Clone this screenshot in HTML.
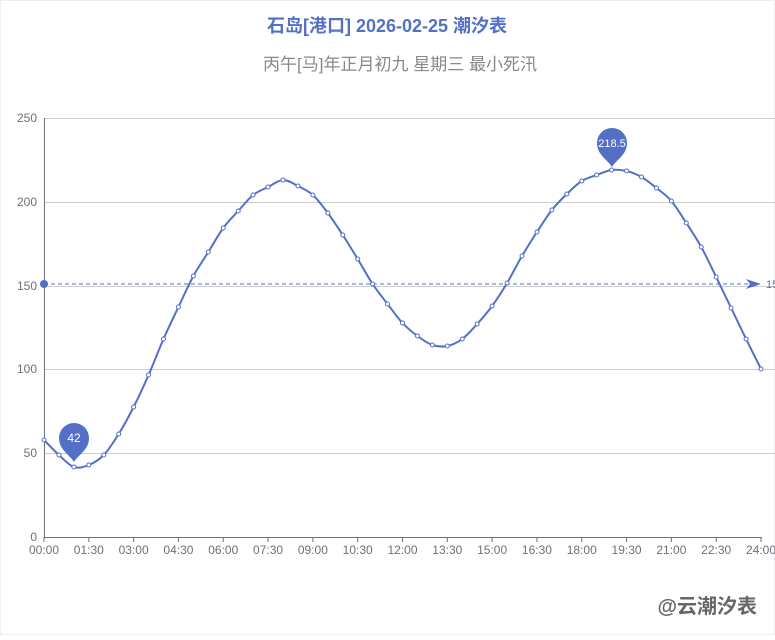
<!DOCTYPE html>
<html><head><meta charset="utf-8"><style>
html,body{margin:0;padding:0;background:#fff;}
body{width:775px;height:635px;overflow:hidden;position:relative;font-family:"Liberation Sans","Noto Sans CJK SC",sans-serif;}
</style></head><body>
<svg id="s" width="775" height="635" xmlns="http://www.w3.org/2000/svg" font-family="Liberation Sans, Noto Sans CJK SC, sans-serif">
<rect x="0.5" y="0.5" width="774" height="634" fill="none" stroke="#eee"/>
<text x="387" y="32" text-anchor="middle" font-size="18" font-weight="bold" fill="#5470c6">石岛[港口] 2026-02-25 潮汐表</text>
<text x="400" y="70" text-anchor="middle" font-size="17" fill="#888">丙午[马]年正月初九 星期三 最小死汛</text>
<g stroke="#ccc" stroke-width="1">
<line x1="44" y1="118.5" x2="775" y2="118.5"/>
<line x1="44" y1="202.5" x2="775" y2="202.5"/>
<line x1="44" y1="286.5" x2="775" y2="286.5"/>
<line x1="44" y1="369.5" x2="775" y2="369.5"/>
<line x1="44" y1="453.5" x2="775" y2="453.5"/>
</g>
<line x1="44" y1="537.5" x2="762" y2="537.5" stroke="#6e7079"/>
<line x1="44.5" y1="118" x2="44.5" y2="537" stroke="#6e7079"/>
<g font-size="12" fill="#6e7079" text-anchor="end">
<text x="37" y="122">250</text><text x="37" y="206">200</text><text x="37" y="290">150</text><text x="37" y="373">100</text><text x="37" y="457">50</text><text x="37" y="541">0</text>
</g>
<g id="xl" font-size="12" fill="#6e7079" text-anchor="middle"></g>
<line x1="44" y1="284" x2="750" y2="284" stroke="#5470c6" stroke-dasharray="4,3" stroke-width="1"/>
<circle cx="44" cy="284" r="4" fill="#5470c6"/>
<path d="M746 279 L761 284 L746 289 L750 284Z" fill="#5470c6"/>
<text x="766" y="288" font-size="11" fill="#5470c6">15</text>
<path id="ln" fill="none" stroke="#5470c6" stroke-width="2"/>
<g id="pts"></g>
<path d="M74 462 C70 455 59 450 59 438 A15 15 0 1 1 89 438 C89 450 78 455 74 462Z" fill="#5470c6"/>
<text x="74" y="442" text-anchor="middle" font-size="12" fill="#fff">42</text>
<path d="M612 167 C608 160 597 155 597 143 A15 15 0 1 1 627 143 C627 155 616 160 612 167Z" fill="#5470c6"/>
<text x="612" y="147" text-anchor="middle" font-size="11" fill="#fff">218.5</text>
<text x="757" y="613" text-anchor="end" font-size="20" font-weight="bold" fill="#666">@云潮汐表</text>
</svg>
<script>
var ys=[440,455,467,465,455,434,407,375,339,307,276,252,228,211,195,187,180,186,195,213,235,259,284,304,323,336,345,346,339,324,306,283,256,232,210,194,181,175,170,171,177,188,201,223,247,277,308,339,369];
var P=ys.map(function(y,i){return [44+i*717/48,y];});
var d="M"+P[0][0]+" "+P[0][1];
for(var i=0;i<P.length-1;i++){var p0=P[Math.max(i-1,0)],p1=P[i],p2=P[i+1],p3=P[Math.min(i+2,P.length-1)];
d+=" C"+(p1[0]+(p2[0]-p0[0])/6)+" "+(p1[1]+(p2[1]-p0[1])/6)+" "+(p2[0]-(p3[0]-p1[0])/6)+" "+(p2[1]-(p3[1]-p1[1])/6)+" "+p2[0]+" "+p2[1];}
document.getElementById("ln").setAttribute("d",d);
var g=document.getElementById("pts"),h="";
P.forEach(function(p){h+='<circle cx="'+p[0]+'" cy="'+p[1]+'" r="2" fill="#fff" stroke="#5470c6" stroke-width="1"/>';});
g.innerHTML=h;
var L=["00:00","01:30","03:00","04:30","06:00","07:30","09:00","10:30","12:00","13:30","15:00","16:30","18:00","19:30","21:00","22:30","24:00"],x="";
L.forEach(function(t,i){var xx=44+i*717/16;x+='<line x1="'+xx+'" y1="537" x2="'+xx+'" y2="542" stroke="#6e7079"/><text x="'+xx+'" y="554">'+t+'</text>';});
document.getElementById("xl").innerHTML=x;
</script>
</body></html>
